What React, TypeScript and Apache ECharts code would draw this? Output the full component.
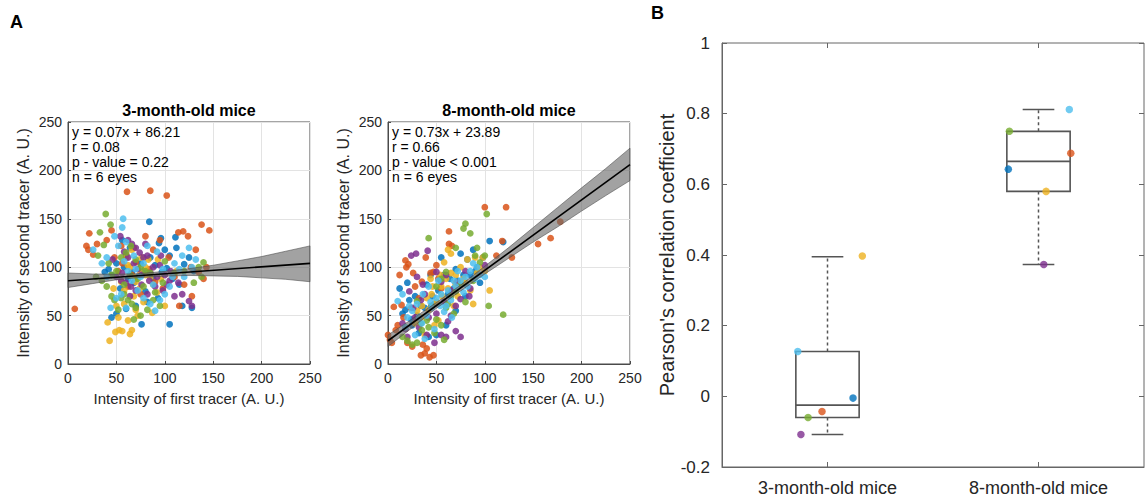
import React, { useEffect, useRef } from 'react';
import * as echarts from 'echarts';

const FONT = 'Liberation Sans, Arial, Helvetica, sans-serif';
const TXT = '#262626';
const AX = '#4a4a4a';

// MATLAB default colour order
const COLOR_NAMES = ['blue', 'orange', 'yellow', 'purple', 'green', 'cyan'];
const COLORS = ['#0072BD', '#D95319', '#EDB120', '#7E2F8E', '#77AC30', '#4DBEEE'];

const scatterTitles = ['3-month-old mice', '8-month-old mice'];
const statTexts = [
  'y = 0.07x + 86.21\nr = 0.08\np - value = 0.22\nn = 6 eyes',
  'y = 0.73x + 23.89\nr = 0.66\np - value < 0.001\nn = 6 eyes',
];

// ---------- 3-month-old mice: [first tracer, second tracer] ----------
const m3Blue = [[76,41],[105,41],[45,48],[50,52],[60,57],[84,147],[94,125],[111,131],[100,118],[105,112],[97,95],[88,88],[80,75],[72,90],[66,95],[58,100],[50,104],[42,98],[115,82],[120,103],[125,110],[128,58],[118,60],[70,60],[93,68],[85,110],[64,120],[56,128],[108,88],[75,104],[45,92],[38,95],[62,88],[78,96],[90,102],[102,99],[112,120],[130,96],[82,64],[68,84],[54,78],[96,130]];
const m3Orange = [[7,57],[61,178],[85,179],[102,174],[19,122],[21,118],[22,135],[26,113],[45,138],[40,128],[55,122],[60,113],[70,105],[80,132],[114,136],[119,137],[138,144],[146,138],[127,100],[135,95],[140,88],[110,90],[98,78],[90,85],[75,72],[62,80],[52,96],[115,60],[128,70],[104,110],[88,118],[66,92],[30,124],[48,110],[68,120],[95,128],[124,132],[132,118],[143,100],[120,82],[84,98],[56,104]];
const m3Yellow = [[43,24],[49,33],[53,35],[56,34],[64,31],[66,35],[62,45],[41,43],[52,48],[87,53],[72,50],[58,62],[68,70],[70,85],[75,95],[80,100],[83,108],[60,110],[66,118],[92,74],[100,60],[112,96],[55,85],[47,78],[78,64],[85,90],[93,108],[62,102],[68,90],[74,78],[80,92],[58,76],[50,60],[88,82],[96,88],[76,110],[64,100],[70,56]];
const m3Purple = [[54,132],[62,128],[66,124],[70,120],[74,115],[78,110],[82,112],[88,100],[95,102],[100,92],[105,86],[110,70],[118,72],[125,65],[128,60],[50,90],[55,86],[60,84],[65,80],[70,76],[76,82],[82,72],[90,80],[46,108],[58,116],[72,98],[85,94],[96,112],[102,82],[64,70],[56,94],[62,110],[68,104],[76,92],[84,86],[92,90],[98,76],[106,96],[114,84],[80,124]];
const m3Green = [[39,155],[44,144],[33,136],[37,123],[31,112],[29,90],[35,86],[45,92],[50,96],[55,110],[60,115],[65,122],[70,108],[75,100],[80,96],[85,94],[55,68],[58,72],[62,66],[66,62],[70,58],[48,66],[52,56],[45,70],[90,74],[95,60],[100,106],[110,94],[135,100],[140,105],[130,84],[75,50],[68,46],[82,56],[40,80],[42,104],[58,82],[64,92],[72,88],[78,80],[88,66],[98,84],[120,96],[138,90]];
const m3Cyan = [[26,118],[57,150],[56,141],[48,132],[35,104],[40,110],[58,106],[62,96],[66,86],[72,76],[78,68],[85,62],[90,55],[95,66],[100,72],[105,80],[110,104],[115,98],[120,90],[125,120],[132,108],[50,68],[55,72],[44,58],[68,112],[82,122],[92,116],[60,58],[75,90],[52,122],[60,126],[70,98],[78,104],[88,82],[98,98],[108,90],[118,112],[128,100],[40,90]];

// ---------- 8-month-old mice ----------
const m8Blue = [[105,127],[119,126],[82,108],[75,114],[88,118],[92,100],[70,98],[64,88],[58,92],[52,76],[46,70],[40,82],[34,60],[28,70],[22,66],[18,56],[15,52],[25,40],[32,32],[42,28],[50,30],[60,40],[70,55],[80,70],[95,84],[85,92],[12,78],[20,84],[55,110],[68,78],[30,50],[38,58],[48,62],[62,72],[72,86],[78,92],[90,96],[98,110],[24,46],[44,92]];
const m8Orange = [[100,162],[122,162],[118,127],[155,124],[168,130],[178,147],[112,112],[128,110],[6,59],[14,61],[0,30],[2,25],[4,22],[8,35],[19,100],[18,107],[21,103],[39,110],[50,102],[63,137],[63,124],[66,122],[44,94],[47,95],[34,9],[38,11],[43,7],[47,9],[25,18],[20,22],[30,48],[55,78],[28,80],[35,85],[10,40],[16,48],[24,58],[32,68],[12,92],[26,94],[52,88],[70,84],[36,20],[40,16]];
const m8Yellow = [[30,55],[35,60],[40,68],[45,72],[50,64],[55,80],[60,88],[65,94],[70,92],[75,100],[80,84],[85,76],[90,110],[95,100],[100,96],[105,76],[62,118],[65,114],[58,105],[48,40],[52,45],[38,30],[72,70],[68,60],[82,108],[44,88],[28,42],[88,62],[34,48],[42,56],[56,70],[62,78],[70,82],[78,88],[92,94],[98,110],[46,80],[54,92]];
const m8Purple = [[24,112],[29,114],[41,117],[100,102],[75,67],[70,60],[15,42],[18,36],[22,75],[28,48],[32,38],[36,82],[55,30],[60,28],[65,50],[70,34],[75,28],[55,85],[60,92],[50,95],[45,60],[38,72],[80,96],[62,44],[48,22],[20,28],[85,78],[26,58],[34,66],[42,48],[50,52],[58,64],[66,76],[72,84],[40,30],[30,90],[84,70]];
const m8Green = [[102,155],[80,145],[85,135],[78,140],[104,60],[119,51],[90,112],[95,105],[60,95],[55,88],[50,80],[45,60],[40,45],[35,35],[30,22],[25,20],[20,24],[15,28],[48,32],[55,40],[60,58],[65,70],[70,75],[75,82],[92,120],[58,25],[30,65],[34,42],[42,38],[50,46],[62,62],[68,52],[80,64],[88,86],[100,112],[42,130],[70,120]];
const m8Cyan = [[10,65],[15,72],[20,48],[25,55],[30,62],[35,42],[40,50],[45,58],[50,68],[55,72],[60,60],[65,66],[70,80],[75,86],[80,90],[85,96],[90,88],[95,92],[100,90],[88,104],[48,36],[38,26],[28,30],[58,54],[66,48],[72,96],[42,80],[52,86],[78,74],[18,38],[22,60],[32,48],[44,64],[54,60],[62,76],[68,86],[82,80],[92,100],[36,72]];

const groups3 = [m3Blue, m3Orange, m3Yellow, m3Purple, m3Green, m3Cyan];
const groups8 = [m8Blue, m8Orange, m8Yellow, m8Purple, m8Green, m8Cyan];

// regression lines (end points)
const regX = [0, 250];
const reg3Y = [86, 104];
const reg8Y = [24, 206];

// confidence bands
const bandX = [0, 25, 50, 75, 100, 125, 150, 175, 200, 225, 250];
const band3Lo = [79, 83, 87, 89.5, 90.7, 91.5, 91, 90.5, 89, 87.5, 85];
const band3Hi = [94, 93, 92.7, 93.5, 95.7, 98.5, 102, 106.5, 111, 116.5, 122];
const band8Lo = [18, 37.5, 57.5, 75.5, 93, 109.5, 126, 141.5, 158, 174, 189.5];
const band8Hi = [30, 46.5, 63.5, 81.5, 101, 120.5, 141, 161.5, 182, 202, 223];

// ---------- panel B: boxplot of Pearson's r ----------
const boxCategories = ['3-month-old mice', '8-month-old mice'];
const boxPos = [1, 2];
const boxWhiskerLow = [-0.108, 0.373];
const boxQ1 = [-0.06, 0.58];
const boxMedian = [-0.025, 0.665];
const boxQ3 = [0.127, 0.75];
const boxWhiskerHigh = [0.395, 0.812];

// individual eyes: [jittered position, r, colour index]
const eyes3 = [[0.859, 0.127, 5], [1.121, -0.005, 0], [0.974, -0.043, 1], [0.908, -0.06, 4], [0.874, -0.108, 3], [1.165, 0.397, 2]];
const eyes8 = [[1.862, 0.75, 4], [1.857, 0.643, 0], [2.036, 0.58, 2], [2.153, 0.688, 1], [2.146, 0.812, 5], [2.025, 0.373, 3]];

function bandSeries(idx: number, lo: number[], hi: number[]) {
  return {
    type: 'custom',
    xAxisIndex: idx,
    yAxisIndex: idx,
    z: 5,
    silent: true,
    data: bandX.map((x, i) => [x, lo[i], hi[i]]),
    encode: { x: 0, y: [1, 2] },
    renderItem: (params: any, api: any) => {
      if (params.dataIndex !== 0) return { type: 'group', children: [] };
      const pts: number[][] = [];
      bandX.forEach((x, i) => pts.push(api.coord([x, lo[i]])));
      for (let i = bandX.length - 1; i >= 0; i--) pts.push(api.coord([bandX[i], hi[i]]));
      return {
        type: 'polygon',
        shape: { points: pts },
        style: { fill: 'rgba(105,105,105,0.62)', stroke: 'rgba(70,70,70,0.7)', lineWidth: 0.8 },
      };
    },
  };
}

function scatterAxes(idx: number) {
  return {
    x: {
      type: 'value', gridIndex: idx, min: 0, max: 250, interval: 50,
      name: 'Intensity of first tracer (A. U.)', nameLocation: 'middle', nameGap: 27,
      nameTextStyle: { fontSize: 15, color: TXT, fontFamily: FONT },
      axisLine: { show: true, onZero: false, lineStyle: { color: AX } },
      axisTick: { show: true, inside: true, length: 3, lineStyle: { color: AX } },
      axisLabel: { fontSize: 14, color: TXT, fontFamily: FONT, margin: 7 },
      splitLine: { show: true, lineStyle: { color: '#e3e3e3' } },
    },
    y: {
      type: 'value', gridIndex: idx, min: 0, max: 250, interval: 50,
      name: 'Intensity of second tracer (A. U.)', nameLocation: 'middle', nameGap: 37,
      nameTextStyle: { fontSize: 16, color: TXT, fontFamily: FONT },
      axisLine: { show: true, onZero: false, lineStyle: { color: AX } },
      axisTick: { show: true, inside: true, length: 3, lineStyle: { color: AX } },
      axisLabel: { fontSize: 14, color: TXT, fontFamily: FONT, margin: 6 },
      splitLine: { show: true, lineStyle: { color: '#e3e3e3' } },
    },
  };
}

export default function App() {
  const ref = useRef<HTMLDivElement>(null);
  useEffect(() => {
    const chart = echarts.init(ref.current!, null, { renderer: 'svg' });
    const a0 = scatterAxes(0);
    const a1 = scatterAxes(1);
    const series: any[] = [];
    [groups3, groups8].forEach((groups, gi) => {
      groups.forEach((pts, ci) => {
        series.push({
          type: 'scatter', name: COLOR_NAMES[ci] + gi, xAxisIndex: gi, yAxisIndex: gi,
          data: pts, symbolSize: 6.8, z: 3,
          itemStyle: { color: COLORS[ci], opacity: 0.85 },
        });
      });
    });
    series.push(bandSeries(0, band3Lo, band3Hi));
    series.push(bandSeries(1, band8Lo, band8Hi));
    [reg3Y, reg8Y].forEach((ys, gi) => {
      series.push({
        type: 'line', xAxisIndex: gi, yAxisIndex: gi, z: 6, showSymbol: false, silent: true,
        data: regX.map((x, i) => [x, ys[i]]),
        lineStyle: { color: '#000', width: 1.6 },
      });
    });
    // boxplot
    series.push({
      type: 'custom', xAxisIndex: 2, yAxisIndex: 2, z: 3, silent: true,
      data: boxPos.map((p, i) => [p, boxWhiskerLow[i], boxQ1[i], boxMedian[i], boxQ3[i], boxWhiskerHigh[i]]),
      encode: { x: 0, y: [1, 2, 3, 4, 5] },
      renderItem: (params: any, api: any) => {
        const p = api.value(0), lo = api.value(1), q1 = api.value(2), med = api.value(3), q3 = api.value(4), hi = api.value(5);
        const bw = 0.15, cw = 0.075;
        const c = (x: number, y: number) => api.coord([x, y]);
        const solid = { stroke: '#555555', lineWidth: 1.6, fill: 'none' };
        const dash = { stroke: '#555555', lineWidth: 1.5, lineDash: [3, 3] };
        const ln = (x1: number, y1: number, x2: number, y2: number, st: any) => {
          const A = c(x1, y1), B = c(x2, y2);
          return { type: 'line', shape: { x1: A[0], y1: A[1], x2: B[0], y2: B[1] }, style: st };
        };
        return {
          type: 'group',
          children: [
            ln(p, q3, p, hi, dash),
            ln(p, q1, p, lo, dash),
            { type: 'polygon', shape: { points: [c(p - bw, q1), c(p + bw, q1), c(p + bw, q3), c(p - bw, q3)] }, style: solid },
            ln(p - bw, med, p + bw, med, solid),
            ln(p - cw, hi, p + cw, hi, solid),
            ln(p - cw, lo, p + cw, lo, solid),
          ],
        };
      },
    });
    series.push({
      type: 'scatter', xAxisIndex: 2, yAxisIndex: 2, z: 4, symbolSize: 7.5,
      data: [...eyes3, ...eyes8].map((e) => ({ value: [e[0], e[1]], itemStyle: { color: COLORS[e[2]] } })),
    });

    const option: any = {
      animation: false,
      backgroundColor: '#ffffff',
      textStyle: { fontFamily: FONT },
      grid: [
        { left: 68, top: 122, width: 242, height: 242, show: true, borderColor: AX, borderWidth: 1 },
        { left: 388, top: 122, width: 242, height: 242, show: true, borderColor: AX, borderWidth: 1 },
        { left: 722, top: 43, width: 422, height: 424, show: true, borderColor: '#666', borderWidth: 1 },
      ],
      xAxis: [
        a0.x, a1.x,
        {
          type: 'value', gridIndex: 2, min: 0.5, max: 2.5,
          axisLine: { show: true, onZero: false, lineStyle: { color: '#666' } },
          axisTick: { show: true, inside: true, length: 5, customValues: boxPos, lineStyle: { color: '#666' } },
          axisLabel: {
            customValues: boxPos, fontSize: 18, color: TXT, fontFamily: FONT, margin: 12,
            formatter: (v: number) => boxCategories[Math.round(v) - 1] || '',
          },
          splitLine: { show: false },
        },
        {
          type: 'value', gridIndex: 2, min: 0.5, max: 2.5, position: 'top',
          axisLine: { show: false, onZero: false },
          axisTick: { show: true, inside: true, length: 5, customValues: boxPos, lineStyle: { color: '#666' } },
          axisLabel: { show: false },
          splitLine: { show: false },
        },
      ],
      yAxis: [
        a0.y, a1.y,
        {
          type: 'value', gridIndex: 2, min: -0.2, max: 1, interval: 0.2,
          name: "Pearson's correlation coefficient", nameLocation: 'middle', nameGap: 44,
          nameTextStyle: { fontSize: 20, color: TXT, fontFamily: FONT },
          axisLine: { show: true, onZero: false, lineStyle: { color: '#666' } },
          axisTick: { show: true, inside: true, length: 5, lineStyle: { color: '#666' } },
          axisLabel: {
            fontSize: 17, color: TXT, fontFamily: FONT, margin: 12,
            formatter: (v: number) => String(Math.round(v * 10) / 10),
          },
          splitLine: { show: false },
        },
        {
          type: 'value', gridIndex: 2, min: -0.2, max: 1, interval: 0.2, position: 'right',
          axisLine: { show: false, onZero: false },
          axisTick: { show: true, inside: true, length: 5, lineStyle: { color: '#666' } },
          axisLabel: { show: false },
          splitLine: { show: false },
        },
      ],
      series,
      graphic: [
        { type: 'text', x: 10, y: 13, style: { text: 'A', fontSize: 18, fontWeight: 'bold', fontFamily: FONT, fill: '#000' } },
        { type: 'text', x: 651, y: 4, style: { text: 'B', fontSize: 18, fontWeight: 'bold', fontFamily: FONT, fill: '#000' } },
        { type: 'text', x: 189, y: 110, style: { text: scatterTitles[0], fontSize: 16, fontWeight: 'bold', fontFamily: FONT, fill: '#000', align: 'center', verticalAlign: 'middle' } },
        { type: 'text', x: 509, y: 110, style: { text: scatterTitles[1], fontSize: 16, fontWeight: 'bold', fontFamily: FONT, fill: '#000', align: 'center', verticalAlign: 'middle' } },
        { type: 'text', x: 72, y: 124, z: 10, style: { text: statTexts[0], fontSize: 14, lineHeight: 15, fontFamily: FONT, fill: '#000' } },
        { type: 'text', x: 392, y: 124, z: 10, style: { text: statTexts[1], fontSize: 14, lineHeight: 15, fontFamily: FONT, fill: '#000' } },
      ],
    };
    chart.setOption(option);
    return () => chart.dispose();
  }, []);
  return (
    <div
      ref={ref}
      style={{ position: 'fixed', left: 0, top: 0, width: 1145, height: 498, background: '#fff' }}
    />
  );
}
